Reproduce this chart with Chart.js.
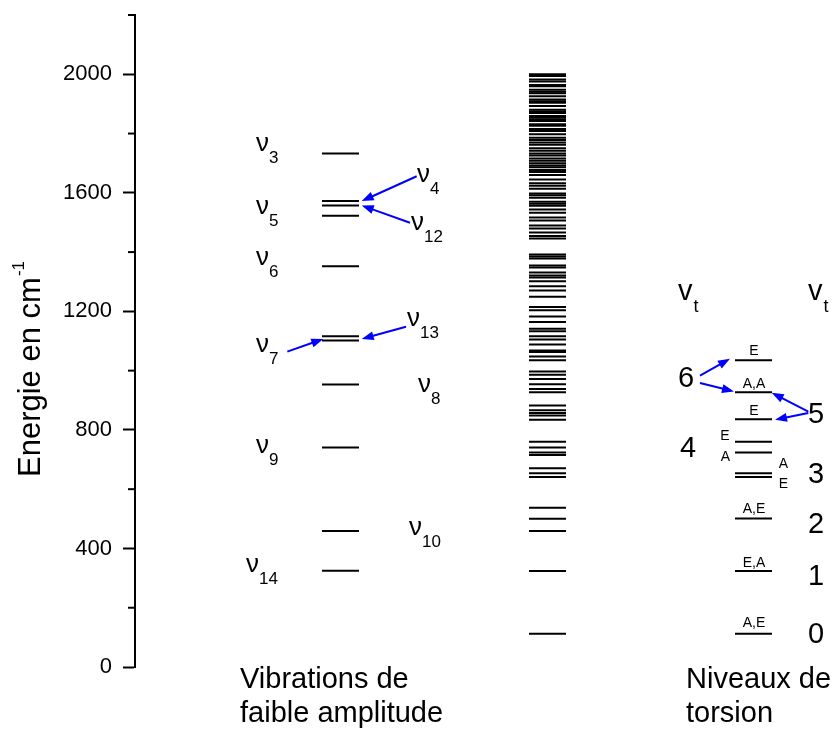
<!DOCTYPE html>
<html>
<head>
<meta charset="utf-8">
<script src="https://cdn.jsdelivr.net/npm/chart.js@4.4.0/dist/chart.umd.min.js"></script>
<style>
  html, body { margin: 0; padding: 0; background: #fff; }
  #wrap { width: 839px; height: 729px; }
</style>
</head>
<body>
<div id="wrap"><canvas id="chart-levels"></canvas></div>
<script>
// energy levels, cm-1
var vibrationLevels = [325, 459, 741, 953, 1102, 1116, 1352, 1523, 1557, 1572, 1733];
var torsionLevels = [112, 324, 501, 641, 654, 724, 760, 836, 927, 1035];
var combinedLevels = [
    112, 324, 459, 500, 537, 641, 654, 671, 715, 724, 741, 760, 834, 849, 857, 866, 882,
    927, 938, 954, 972, 986, 997, 1035, 1048, 1063, 1068, 1088, 1105, 1116, 1133, 1141,
    1164, 1183, 1204, 1215, 1249, 1270, 1285, 1302, 1314, 1321, 1331, 1348, 1355, 1378,
    1385, 1392, 1446, 1454, 1466, 1480, 1490, 1507, 1517, 1533, 1544, 1556, 1563, 1570,
    1583, 1592, 1598, 1614, 1624, 1632, 1645, 1660, 1670, 1677, 1686, 1692, 1700, 1708,
    1716, 1726, 1733, 1742, 1750, 1762, 1770, 1778, 1786, 1798, 1809, 1815, 1826, 1831,
    1842, 1847, 1853, 1859, 1869, 1874, 1880, 1893, 1904, 1909, 1915, 1926, 1936, 1941,
    1948, 1960, 1964, 1976, 1982, 1994, 2000
];
var majorTicks = [0, 400, 800, 1200, 1600, 2000];
var minorTicks = [200, 600, 1000, 1400, 1800, 2200];

var FONT = "'Liberation Sans', Arial, sans-serif";

// column centres on the hidden x scale (0..704)
var colX = { vib: 205.5, comb: 412.5, tors: 618.5 };

// nu labels: subscript, x, baseline energy
var nuLabels = [
    { sub: '3', x: 121, e: 1740 },
    { sub: '5', x: 121, e: 1527 },
    { sub: '6', x: 121, e: 1358 },
    { sub: '7', x: 121, e: 1064 },
    { sub: '9', x: 121, e: 723 },
    { sub: '14', x: 111, e: 321 },
    { sub: '4', x: 282, e: 1635 },
    { sub: '12', x: 276, e: 1476 },
    { sub: '13', x: 272, e: 1149 },
    { sub: '8', x: 283, e: 929 },
    { sub: '10', x: 274, e: 446 }
];
var vtLabels = [{ x: 543, e: 1240 }, { x: 673, e: 1240 }];
var vtNumbers = [
    { t: '6', x: 543, e: 946 }, { t: '4', x: 545, e: 709 },
    { t: '5', x: 673, e: 824 }, { t: '3', x: 673, e: 622 },
    { t: '2', x: 673, e: 453 }, { t: '1', x: 673, e: 277 },
    { t: '0', x: 673, e: 81 }
];
var symLabels = [
    { t: 'E', x: 619, e: 1054 }, { t: 'A,A', x: 619, e: 943 },
    { t: 'E', x: 619, e: 851 }, { t: 'E', x: 590, e: 767 },
    { t: 'A', x: 590.5, e: 696 }, { t: 'A', x: 648.5, e: 672 },
    { t: 'E', x: 648.5, e: 605 }, { t: 'A,E', x: 619, e: 520 },
    { t: 'E,A', x: 619, e: 338 }, { t: 'A,E', x: 619, e: 135 }
];
var arrows = [
    [281.7, 1656, 226.7, 1572], [275, 1499, 226.7, 1557],
    [152.3, 1064, 188.3, 1107], [271, 1148, 226.7, 1107],
    [565, 983, 595, 1040], [565, 958, 599, 930],
    [673.3, 862, 636.7, 925], [673.3, 857, 640, 834]
];

function levelSet(levels, x) {
    return {
        data: levels.map(function (e) { return { x: x, y: e }; }),
        pointStyle: 'line',
        pointRadius: 18.5,
        pointHoverRadius: 18.5,
        pointBorderWidth: 2,
        pointHoverBorderWidth: 2,
        pointBorderColor: '#000',
        showLine: false
    };
}

function drawArrow(ctx, x0, y0, x1, y1) {
    var a = Math.atan2(y1 - y0, x1 - x0), len = 12, hw = 4.5;
    var bx = x1 - len * Math.cos(a), by = y1 - len * Math.sin(a);
    ctx.beginPath();
    ctx.moveTo(x0, y0);
    ctx.lineTo(bx + 2 * Math.cos(a), by + 2 * Math.sin(a));
    ctx.stroke();
    ctx.beginPath();
    ctx.moveTo(x1, y1);
    ctx.lineTo(bx + hw * Math.sin(a), by - hw * Math.cos(a));
    ctx.lineTo(bx - hw * Math.sin(a), by + hw * Math.cos(a));
    ctx.closePath();
    ctx.fill();
}

var annotations = {
    id: 'annotations',
    afterDraw: function (chart) {
        var ctx = chart.ctx, xs = chart.scales.x, ys = chart.scales.y, area = chart.chartArea;
        ctx.save();
        ctx.fillStyle = '#000';
        ctx.strokeStyle = '#000';
        ctx.textBaseline = 'alphabetic';
        ctx.textAlign = 'left';

        // minor ticks
        ctx.lineWidth = 2;
        minorTicks.forEach(function (v) {
            var y = ys.getPixelForValue(v);
            ctx.beginPath();
            ctx.moveTo(ys.right - 7, y);
            ctx.lineTo(ys.right, y);
            ctx.stroke();
        });

        // axis title
        ctx.save();
        ctx.translate(40, area.bottom - 190);
        ctx.rotate(-Math.PI / 2);
        ctx.font = '31px ' + FONT;
        ctx.fillText('Energie en cm', 0, 0);
        var w = ctx.measureText('Energie en cm').width;
        ctx.font = '17px ' + FONT;
        ctx.fillText('-1', w + 1, -16);
        ctx.restore();

        // nu labels
        nuLabels.forEach(function (l) {
            var x = xs.getPixelForValue(l.x), y = ys.getPixelForValue(l.e);
            ctx.font = '26px ' + FONT;
            ctx.fillText('\u03bd', x, y);
            var w = ctx.measureText('\u03bd').width;
            ctx.font = '17px ' + FONT;
            ctx.fillText(l.sub, x + w, y + 12);
        });

        // torsion quantum numbers
        vtLabels.forEach(function (l) {
            var x = xs.getPixelForValue(l.x), y = ys.getPixelForValue(l.e);
            ctx.font = '29px ' + FONT;
            ctx.fillText('v', x, y);
            var w = ctx.measureText('v').width;
            ctx.font = '18px ' + FONT;
            ctx.fillText('t', x + w + 1, y + 12);
        });
        ctx.font = '29px ' + FONT;
        vtNumbers.forEach(function (l) {
            ctx.fillText(l.t, xs.getPixelForValue(l.x), ys.getPixelForValue(l.e));
        });

        // symmetry labels
        ctx.font = '14px ' + FONT;
        ctx.textAlign = 'center';
        symLabels.forEach(function (l) {
            ctx.fillText(l.t, xs.getPixelForValue(l.x), ys.getPixelForValue(l.e));
        });

        // column captions
        ctx.textAlign = 'left';
        ctx.font = '29px ' + FONT;
        ctx.fillText('Vibrations de', 240, area.bottom + 21);
        ctx.fillText('faible amplitude', 240, area.bottom + 55);
        ctx.fillText('Niveaux de', 686, area.bottom + 21);
        ctx.fillText('torsion', 686, area.bottom + 55);

        // arrows
        ctx.strokeStyle = '#0000ff';
        ctx.fillStyle = '#0000ff';
        ctx.lineWidth = 2;
        arrows.forEach(function (a) {
            drawArrow(ctx, xs.getPixelForValue(a[0]), ys.getPixelForValue(a[1]),
                xs.getPixelForValue(a[2]), ys.getPixelForValue(a[3]));
        });
        ctx.restore();
    }
};

var ctx1 = document.getElementById('chart-levels').getContext('2d');
var levelChart = new Chart(ctx1, {
    type: 'scatter',
    data: {
        datasets: [
            levelSet(vibrationLevels, colX.vib),
            levelSet(combinedLevels, colX.comb),
            levelSet(torsionLevels, colX.tors)
        ]
    },
    options: {
        responsive: true,
        maintainAspectRatio: false,
        animation: false,
        events: [],
        layout: {
            autoPadding: false,
            padding: { top: 15, bottom: 62, left: 0, right: 0 }
        },
        plugins: {
            legend: { display: false },
            tooltip: { enabled: false }
        },
        scales: {
            x: { type: 'linear', min: 0, max: 704, display: false },
            y: {
                type: 'linear',
                min: 0,
                max: 2200,
                afterBuildTicks: function (scale) {
                    scale.ticks = majorTicks.map(function (v) { return { value: v }; });
                },
                afterFit: function (scale) {
                    scale.width = 135;
                    scale.paddingTop = 0;
                    scale.paddingBottom = 0;
                },
                border: { display: true, color: '#000', width: 2 },
                grid: {
                    display: true,
                    drawOnChartArea: false,
                    drawTicks: true,
                    tickLength: 12,
                    tickWidth: 2,
                    tickColor: '#000'
                },
                ticks: {
                    color: '#000',
                    padding: 11,
                    font: { family: FONT, size: 22 },
                    callback: function (v) { return String(v); }
                }
            }
        }
    },
    plugins: [annotations]
});
</script>
</body>
</html>
